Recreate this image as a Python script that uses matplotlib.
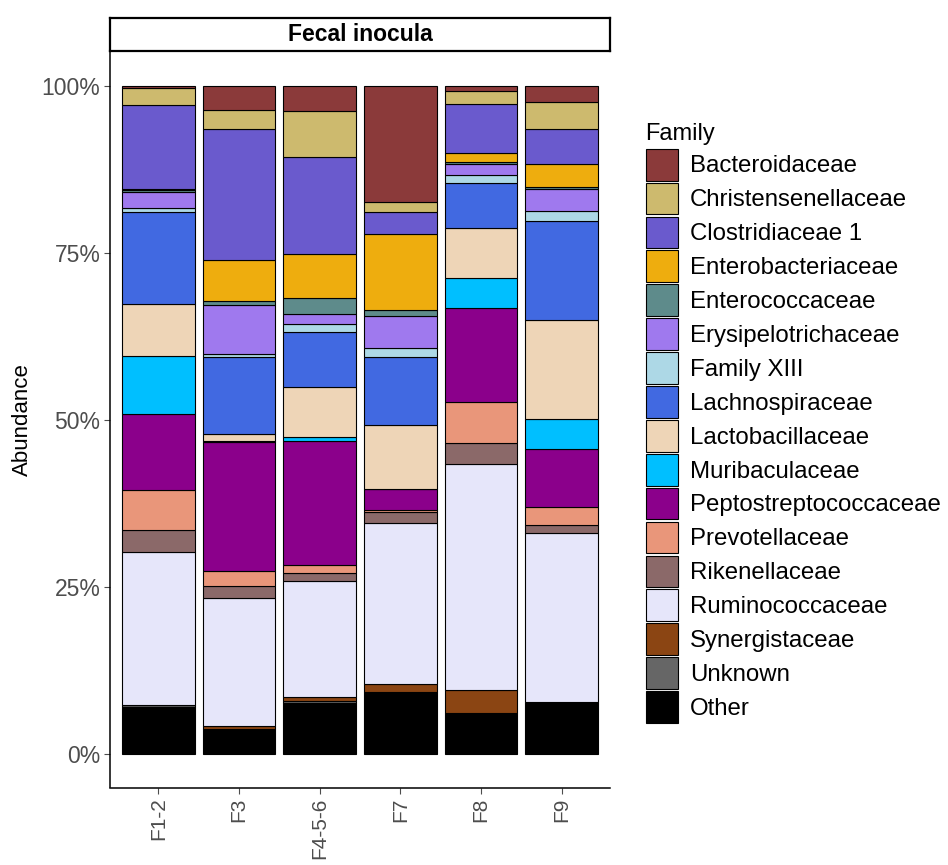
import numpy as np
import matplotlib
matplotlib.use("Agg")
import matplotlib.pyplot as plt
from matplotlib.patches import Patch

plt.rcParams['font.family'] = ['Liberation Sans', 'DejaVu Sans']

samples = ["F1-2", "F3", "F4-5-6", "F7", "F8", "F9"]

# families in legend order (top of stack first)
families = ["Bacteroidaceae", "Christensenellaceae", "Clostridiaceae 1", "Enterobacteriaceae",
            "Enterococcaceae", "Erysipelotrichaceae", "Family XIII", "Lachnospiraceae",
            "Lactobacillaceae", "Muribaculaceae", "Peptostreptococcaceae", "Prevotellaceae",
            "Rikenellaceae", "Ruminococcaceae", "Synergistaceae", "Unknown", "Other"]

colors = ["#8B3A3A", "#CDBA6E", "#6A5ACD", "#EEAD0E", "#5E8B8B", "#9F79EE", "#ADD8E6",
          "#4169E1", "#EED5B7", "#00BFFF", "#8B008B", "#E9967A", "#8B6969", "#E6E6FA",
          "#8B4513", "#666666", "#000000"]

# abundance (%) per family, per sample (F1-2, F3, F4-5-6, F7, F8, F9)
Bacteroidaceae        = [0.3, 3.6, 3.7, 17.4, 0.8, 2.4]
Christensenellaceae   = [2.5, 2.8, 6.9, 1.5, 1.9, 4.0]
Clostridiaceae_1      = [12.6, 19.7, 14.5, 3.3, 7.3, 5.3]
Enterobacteriaceae    = [0.3, 6.0, 6.7, 11.3, 1.4, 3.4]
Enterococcaceae       = [0.3, 0.7, 2.4, 0.9, 0.3, 0.3]
Erysipelotrichaceae   = [2.3, 7.3, 1.5, 4.8, 1.7, 3.3]
Family_XIII           = [0.7, 0.4, 1.1, 1.3, 1.2, 1.5]
Lachnospiraceae       = [13.7, 11.5, 8.2, 10.2, 6.7, 14.8]
Lactobacillaceae      = [7.9, 1.1, 7.5, 9.7, 7.4, 14.9]
Muribaculaceae        = [8.6, 0.2, 0.6, 0.0, 4.6, 4.5]
Peptostreptococcaceae = [11.5, 19.3, 18.6, 3.1, 14.0, 8.6]
Prevotellaceae        = [6.0, 2.1, 1.2, 0.3, 6.1, 2.7]
Rikenellaceae         = [3.3, 1.8, 1.2, 1.6, 3.2, 1.2]
Ruminococcaceae       = [22.9, 19.2, 17.3, 24.1, 33.8, 25.3]
Synergistaceae        = [0.0, 0.4, 0.6, 1.2, 3.5, 0.2]
Unknown               = [0.3, 0.0, 0.4, 0.0, 0.0, 0.1]
Other                 = [7.1, 3.8, 7.6, 9.3, 6.1, 7.5]

values = [Bacteroidaceae, Christensenellaceae, Clostridiaceae_1, Enterobacteriaceae,
          Enterococcaceae, Erysipelotrichaceae, Family_XIII, Lachnospiraceae,
          Lactobacillaceae, Muribaculaceae, Peptostreptococcaceae, Prevotellaceae,
          Rikenellaceae, Ruminococcaceae, Synergistaceae, Unknown, Other]

data = np.array(values, dtype=float)
data = data / data.sum(axis=0) * 100.0

fig = plt.figure(figsize=(9.48, 8.65), dpi=100)
W, H = 948, 865
ax = fig.add_axes([110 / W, 1 - 787.5 / H, 500 / W, (787.5 - 52.5) / H])

x = np.arange(len(samples))
bottom = np.zeros(len(samples))
# stack from bottom: Other first
for i in range(len(families) - 1, -1, -1):
    ax.bar(x, data[i], bottom=bottom, width=0.9, color=colors[i],
           edgecolor="black", linewidth=0.8)
    bottom += data[i]

ax.set_xlim(-0.6, len(samples) - 0.4)
ax.set_ylim(-5, 105)
ax.set_yticks([0, 25, 50, 75, 100])
ax.set_yticklabels(["0%", "25%", "50%", "75%", "100%"])
ax.set_xticks(x)
ax.set_xticklabels(samples, rotation=90, ha="center", va="top")
ax.tick_params(axis="both", colors="#4D4D4D", length=4, width=0.8)
ax.tick_params(axis="x", labelcolor="#4D4D4D", labelsize=15, pad=3)
ax.tick_params(axis="y", labelcolor="#4D4D4D", labelsize=16.5, pad=3)
for s in ["top", "right"]:
    ax.spines[s].set_visible(False)
for s in ["left", "bottom"]:
    ax.spines[s].set_linewidth(1.1)
    ax.spines[s].set_color("black")
ax.set_ylabel("Abundance", fontsize=16, color="black", labelpad=6)

# strip
sax = fig.add_axes([110 / W, 1 - 51 / H, 500 / W, 33 / H])
sax.set_xticks([]); sax.set_yticks([])
for s in sax.spines.values():
    s.set_linewidth(1.6)
    s.set_color("black")
sax.text(0.5, 0.5, "Fecal inocula", ha="center", va="center", fontsize=16.5,
         fontweight="bold", transform=sax.transAxes)

handles = [Patch(facecolor=c, edgecolor="black", linewidth=0.8) for c in colors]
leg = fig.legend(handles, families, loc="upper left", bbox_to_anchor=(636 / W, 1 - 113 / H),
                 frameon=False, fontsize=17.3, title="Family", title_fontsize=17,
                 handlelength=1.35, handleheight=1.655, labelspacing=0.09,
                 handletextpad=0.5, borderaxespad=0)
leg._legend_box.align = "left"
leg._legend_box.sep = 3

fig.savefig("out.png", dpi=100)
